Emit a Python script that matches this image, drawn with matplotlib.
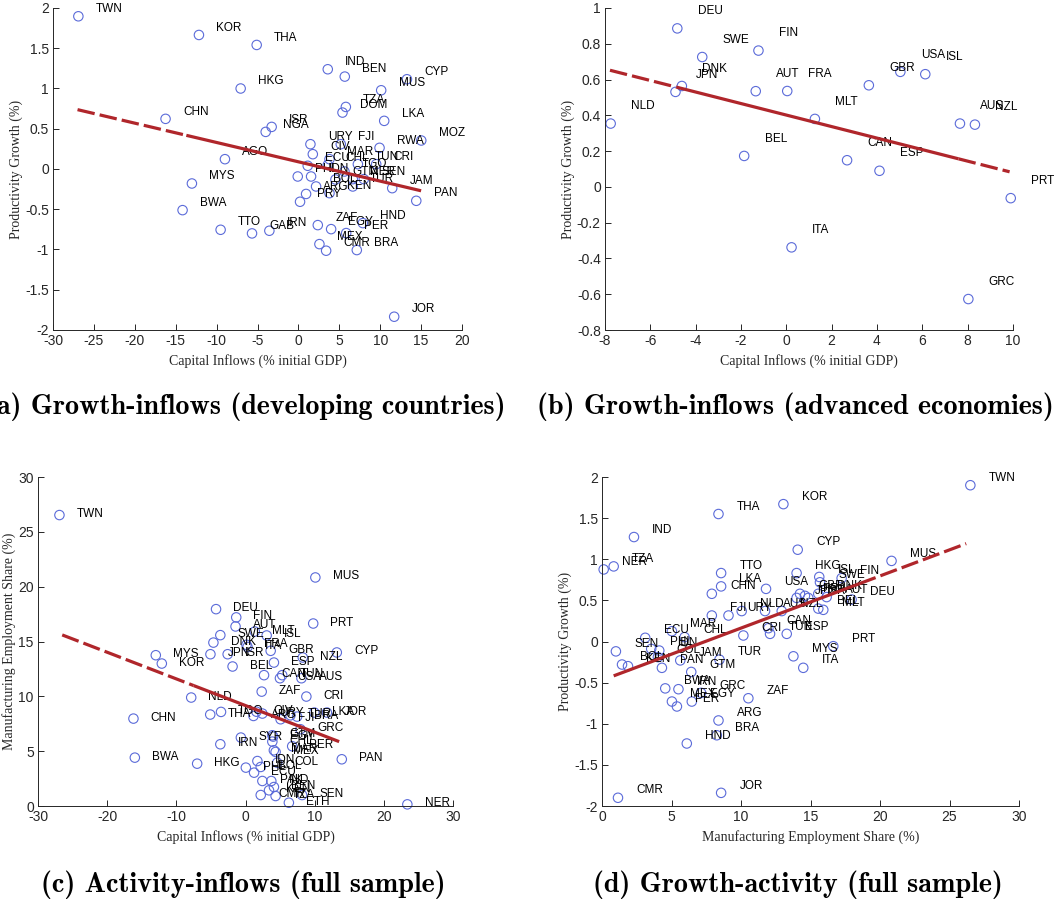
import matplotlib
matplotlib.use("Agg")
import matplotlib.pyplot as plt
from matplotlib.ticker import FuncFormatter, MultipleLocator

plt.rcParams['axes.unicode_minus'] = False

# ---------------- Panel (a): growth vs inflows, developing countries
a_labels = ['TWN', 'KOR', 'THA', 'HKG', 'IND', 'BEN', 'CYP', 'MUS', 'TZA', 'DOM', 'LKA', 'CHN',
            'ISR', 'NGA', 'MOZ', 'RWA', 'URY', 'FJI', 'CIV', 'MAR', 'AGO', 'ECU', 'CHL', 'TUN',
            'CRI', 'TGO', 'PHL', 'IDN', 'GTM', 'NER', 'SEN', 'BOL', 'TUR', 'KEN', 'ARG', 'PRY',
            'JAM', 'PAN', 'MYS', 'BWA', 'TTO', 'GAB', 'IRN', 'ZAF', 'EGY', 'HND', 'PER', 'MEX',
            'CMR', 'BRA', 'JOR']
a_inflow = [-26.9, -12.16, -5.1, -7.06, 3.59, 5.67, 13.27, 10.12, 5.8, 5.39, 10.49, -16.24,
            -3.27, -4.0, 15.02, 9.92, 1.47, 5.18, 1.76, 3.8, -8.98, 1.14, 3.59, 7.27,
            9.51, 5.63, -0.08, 1.55, 4.53, 6.65, 8.0, 2.16, 6.65, 3.8, 0.94, 0.2,
            11.47, 14.41, -13.02, -14.16, -9.51, -5.67, -3.55, 2.37, 4.0, 7.88, 5.84, 2.57,
            3.39, 7.14, 11.71]
a_growth = [1.897, 1.665, 1.541, 1.0, 1.239, 1.148, 1.115, 0.978, 0.771, 0.701, 0.598, 0.623,
            0.523, 0.461, 0.354, 0.263, 0.308, 0.308, 0.184, 0.122, 0.122, 0.04, 0.05, 0.06,
            0.06, -0.031, -0.093, -0.093, -0.13, -0.126, -0.126, -0.217, -0.217, -0.30, -0.31, -0.407,
            -0.238, -0.395, -0.18, -0.511, -0.755, -0.8, -0.767, -0.697, -0.747, -0.672, -0.796, -0.933,
            -1.015, -1.007, -1.835]
a_fit = (0.0894, -0.0240)          # intercept, slope
a_fit_span = (-27.0, 15.0)
a_fit_solid = (-13.7, 15.0)

# ---------------- Panel (b): growth vs inflows, advanced economies
b_labels = ['DEU', 'SWE', 'FIN', 'DNK', 'JPN', 'AUT', 'FRA', 'MLT', 'GBR', 'USA', 'ISL', 'AUS',
            'NZL', 'NLD', 'BEL', 'CAN', 'ESP', 'PRT', 'ITA', 'GRC']
b_inflow = [-4.81, -3.71, -1.23, -4.61, -4.89, -1.35, 0.04, 1.26, 3.64, 5.03, 6.13, 7.66,
            8.32, -7.75, -1.86, 2.68, 4.11, 9.90, 0.23, 8.03]
b_growth = [0.886, 0.726, 0.762, 0.564, 0.531, 0.535, 0.536, 0.380, 0.568, 0.643, 0.630, 0.354,
            0.348, 0.354, 0.173, 0.149, 0.090, -0.063, -0.338, -0.627]
b_fit = (0.4015, -0.0322)
b_fit_span = (-7.78, 9.85)
b_fit_solid = (-4.85, 7.6)

# ---------------- Panel (c): manufacturing share vs inflows, full sample
c_labels = ['TWN', 'MUS', 'DEU', 'FIN', 'PRT', 'AUT', 'MLT', 'ISL', 'SWE', 'DNK', 'FRA', 'ITA',
            'GBR', 'CYP', 'NZL', 'MYS', 'JPN', 'ISR', 'KOR', 'ESP', 'BEL', 'CAN', 'TUN', 'USA',
            'AUS', 'ZAF', 'NLD', 'CRI', 'CHN', 'THA', 'TGO', 'CIV', 'ARG', 'URY', 'FJI', 'TUR',
            'BRA', 'LKA', 'JOR', 'GRC', 'SYR', 'GTM', 'EGY', 'CHL', 'PER', 'MAR', 'MEX', 'IRN',
            'BWA', 'PAN', 'HKG', 'IDN', 'COL', 'PHL', 'BOL', 'ECU', 'PAK', 'IND', 'BEN', 'KEN',
            'CMR', 'TZA', 'SEN', 'ETH', 'NER']
c_inflow = [-26.9, 10.1, -4.26, -1.34, 9.79, -1.44, 1.34, 3.06, -3.64, -4.64, 0.14, 0.29,
            3.64, 13.2, 8.28, -12.97, -5.07, -2.58, -12.1, 4.11, -1.87, 2.68, 5.31, 4.98,
            8.09, 2.34, -7.85, 8.8, -16.2, -5.1, -3.54, 1.58, 1.15, 2.44, 5.07, 6.5,
            7.46, 9.95, 11.77, 7.94, -0.67, 3.88, 4.0, 3.88, 6.75, 4.1, 4.35, -3.64,
            -16.0, 13.92, -6.99, 1.72, 4.59, 0.05, 2.2, 1.24, 2.44, 3.73, 4.11, 3.4,
            2.2, 4.35, 8.18, 6.27, 23.4]
c_mfg = [26.53, 20.84, 17.95, 17.2, 16.64, 16.37, 15.91, 15.55, 15.58, 14.9, 14.7, 14.5,
         14.15, 14.0, 13.54, 13.75, 13.84, 13.84, 12.99, 13.08, 12.72, 11.93, 11.93, 11.65,
         11.65, 10.43, 9.89, 9.98, 7.97, 8.34, 8.58, 8.6, 8.21, 8.43, 7.91, 8.27,
         8.15, 8.52, 8.52, 7.0, 6.24, 6.45, 6.33, 5.87, 5.45, 5.08, 4.93, 5.63,
         4.41, 4.26, 3.86, 4.1, 3.95, 3.5, 3.56, 3.04, 2.28, 2.28, 1.73, 1.43,
         1.0, 0.91, 1.0, 0.3, 0.15]
c_fit = (9.16, -0.243)
c_fit_span = (-26.5, 13.54)
c_fit_solid = (-7.5, 13.54)

# ---------------- Panel (d): growth vs manufacturing share, full sample
d_labels = ['TWN', 'KOR', 'THA', 'IND', 'NER', 'TZA', 'CYP', 'MUS', 'TTO', 'HKG', 'ISL', 'FIN',
            'SWE', 'USA', 'LKA', 'CHN', 'GBR', 'DNK', 'JPN', 'ISR', 'FRA', 'AUT', 'DEU', 'BEL',
            'MLT', 'NLD', 'AUS', 'NZL', 'CAN', 'TUN', 'ESP', 'CRI', 'PRT', 'MYS', 'ITA', 'FJI',
            'URY', 'MAR', 'CHL', 'ECU', 'SEN', 'PHL', 'IDN', 'COL', 'JAM', 'TUR', 'PAN', 'GTM',
            'BOL', 'KEN', 'BWA', 'IRN', 'GRC', 'MEX', 'EGY', 'PER', 'ZAF', 'ARG', 'BRA', 'HND',
            'CMR', 'JOR']
d_mfg = [26.5, 13.05, 8.38, 2.30, 0.12, 0.84, 14.08, 20.83, 8.57, 14.0, 15.63, 17.24,
         15.68, 11.8, 8.57, 7.9, 14.24, 15.56, 14.0, 14.84, 14.6, 16.16, 17.96, 15.56,
         15.92, 10.05, 11.73, 12.93, 11.97, 12.09, 13.29, 10.17, 16.64, 13.77, 14.48, 7.9,
         9.1, 5.03, 5.94, 3.11, 1.0, 3.54, 4.12, 4.02, 5.63, 8.45, 4.31, 6.42,
         1.44, 1.87, 4.55, 5.5, 7.13, 5.03, 6.46, 5.39, 10.53, 8.38, 8.26, 6.1,
         1.15, 8.57]
d_growth = [1.90, 1.67, 1.55, 1.27, 0.876, 0.913, 1.116, 0.98, 0.832, 0.832, 0.785, 0.77,
            0.72, 0.64, 0.67, 0.58, 0.58, 0.58, 0.53, 0.53, 0.555, 0.54, 0.51, 0.40,
            0.385, 0.37, 0.37, 0.37, 0.162, 0.093, 0.093, 0.073, -0.057, -0.18, -0.32, 0.316,
            0.316, 0.125, 0.053, 0.045, -0.12, -0.09, -0.11, -0.19, -0.23, -0.22, -0.32, -0.37,
            -0.28, -0.30, -0.57, -0.58, -0.625, -0.73, -0.73, -0.79, -0.69, -0.96, -1.14, -1.24,
            -1.90, -1.84]
d_fit = (-0.471, 0.0634)
d_fit_span = (0.84, 26.2)
d_fit_solid = (0.84, 18.5)

captions = ['(a) Growth-inflows (developing countries)',
            '(b) Growth-inflows (advanced economies)',
            '(c) Activity-inflows (full sample)',
            '(d) Growth-activity (full sample)']
x_titles = ['Capital Inflows (% initial GDP)', 'Capital Inflows (% initial GDP)',
            'Capital Inflows (% initial GDP)', 'Manufacturing Employment Share (%)']
y_titles = ['Productivity Growth (%)', 'Productivity Growth (%)',
            'Manufacturing Employment Share (%)', 'Productivity Growth (%)']

# ---------------- drawing
W, H = 1062, 905
fig = plt.figure(figsize=(W / 100, H / 100), dpi=100)

MARKER_C = '#5b6bd9'
LINE_C = '#b0262b'
AX_C = '#262626'


def rect(l, t, r, b):
    return [l / W, 1 - b / H, (r - l) / W, (b - t) / H]


def gfmt(v, pos):
    return '%g' % round(v, 6)


def panel(box, labels, xs, ys, off, fit, span, solid, xlim, ylim, xstep, ystep,
          xlabel, ylabel, caption, cap_xy):
    ax = fig.add_axes(rect(*box))
    ax.scatter(xs, ys, s=46, facecolors='none', edgecolors=MARKER_C,
               linewidths=0.8, zorder=2, clip_on=False)
    for lab, x, y in zip(labels, xs, ys):
        ax.text(x + off[0], y + off[1], lab, fontsize=8.5, family='Liberation Sans',
                ha='left', va='center', zorder=3, clip_on=False, color='black')
    b0, b1 = fit
    segs = [(span[0], solid[0], False), (solid[0], solid[1], True), (solid[1], span[1], False)]
    for s0, s1, is_solid in segs:
        if s1 - s0 <= 1e-9:
            continue
        ls = '-' if is_solid else (0, (5.5, 1.6))
        ax.plot([s0, s1], [b0 + b1 * s0, b0 + b1 * s1], color=LINE_C, lw=2.3, ls=ls,
                zorder=4, solid_capstyle='butt', dash_capstyle='butt')
    ax.set_xlim(*xlim)
    ax.set_ylim(*ylim)
    ax.xaxis.set_major_locator(MultipleLocator(xstep))
    ax.yaxis.set_major_locator(MultipleLocator(ystep))
    ax.xaxis.set_major_formatter(FuncFormatter(gfmt))
    ax.yaxis.set_major_formatter(FuncFormatter(gfmt))
    for s in ['top', 'right']:
        ax.spines[s].set_visible(False)
    for s in ['left', 'bottom']:
        ax.spines[s].set_color(AX_C)
        ax.spines[s].set_linewidth(0.7)
    ax.tick_params(direction='in', length=4, width=0.7, colors=AX_C, labelsize=10, pad=3)
    for t in ax.get_xticklabels() + ax.get_yticklabels():
        t.set_family('Liberation Sans')
    ax.set_xlabel(xlabel, family='Liberation Serif', fontsize=10, color=AX_C, labelpad=4)
    ax.set_ylabel(ylabel, family='Liberation Serif', fontsize=10, color=AX_C, labelpad=1.5)
    fig.text(cap_xy[0] / W, 1 - cap_xy[1] / H, caption, ha='center', va='center',
             family='cmb10', fontsize=20.3, color='black')
    return ax


panel((53, 8, 462, 330), a_labels, a_inflow, a_growth, (2.12, 0.091),
      a_fit, a_fit_span, a_fit_solid, (-30, 20), (-2, 2), 5, 0.5,
      x_titles[0], y_titles[0], captions[0], (246, 407))
panel((605, 8, 1013, 330), b_labels, b_inflow, b_growth, (0.9, 0.097),
      b_fit, b_fit_span, b_fit_solid, (-8, 10), (-0.8, 1), 2, 0.2,
      x_titles[1], y_titles[1], captions[1], (795, 407))
panel((38, 477, 453, 806), c_labels, c_inflow, c_mfg, (2.49, 0.09),
      c_fit, c_fit_span, c_fit_solid, (-30, 30), (0, 30), 10, 5,
      x_titles[2], y_titles[2], captions[2], (243, 885))
panel((602, 477, 1019, 806), d_labels, d_mfg, d_growth, (1.32, 0.089),
      d_fit, d_fit_span, d_fit_solid, (0, 30), (-2, 2), 5, 0.5,
      x_titles[3], y_titles[3], captions[3], (798, 885))

fig.savefig('out.png', dpi=100)
